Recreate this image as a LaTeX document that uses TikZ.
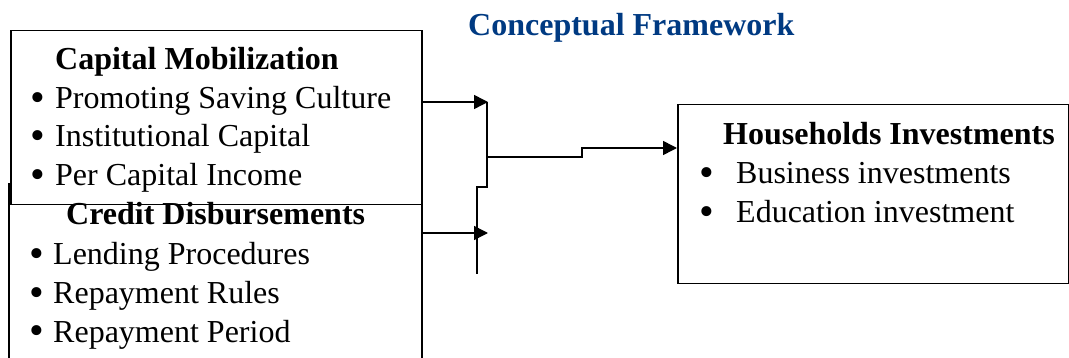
\documentclass[tikz,border=0pt]{standalone}
\usepackage{fontspec}
\setmainfont{Liberation Serif}
\usetikzlibrary{arrows.meta}
\definecolor{titleblue}{RGB}{0,58,130}
\begin{document}
\begin{tikzpicture}[x=1pt,y=-1pt,
  box/.style={draw=black, line width=1.5pt, fill=white, anchor=north west, inner sep=0pt},
  txt/.style={anchor=base west, inner sep=0pt, font=\fontsize{32}{37}\selectfont},
  head/.style={anchor=base west, inner sep=0pt, font=\fontsize{32}{37}\selectfont\bfseries},
  bul/.style={anchor=center, inner sep=0pt, font=\fontsize{42}{42}\selectfont},
  conn/.style={line width=1.5pt},
  arr/.style={conn, -{Triangle[length=14pt,width=14pt]}}]
\useasboundingbox (0,0) rectangle (1069,358);
% boxes
\node[box, minimum width=413pt, minimum height=240pt] (cd) at (8,183) {};
\node[box, minimum width=411pt, minimum height=174pt] (cm) at (10,30) {};
\node[box, minimum width=391pt, minimum height=179pt] (hi) at (677,104) {};
% title
\node[head, text=titleblue] (title) at (468,36) {Conceptual Framework};
% capital mobilization
\node[head] (cmh) at (55,70) {Capital Mobilization};
\node[bul] (cmb1) at (38,102) {\textbullet};
\node[txt] (cm1) at (55,108.5) {Promoting Saving Culture};
\node[bul] (cmb2) at (38,140.5) {\textbullet};
\node[txt] (cm2) at (55,147) {Institutional Capital};
\node[bul] (cmb3) at (38,179) {\textbullet};
\node[txt] (cm3) at (55,185.5) {Per Capital Income};
% credit disbursements
\node[head] (cdh) at (66,225) {Credit Disbursements};
\node[bul] (cdb1) at (37,258.5) {\textbullet};
\node[txt] (cd1) at (53,265) {Lending Procedures};
\node[bul] (cdb2) at (37,297) {\textbullet};
\node[txt] (cd2) at (53,303.5) {Repayment Rules};
\node[bul] (cdb3) at (37,335.5) {\textbullet};
\node[txt] (cd3) at (53,342) {Repayment Period};
% households investments
\node[head] (hih) at (723,145) {Households Investments};
\node[bul] (hib1) at (707,177.5) {\textbullet};
\node[txt] (hi1) at (736,184) {Business investments};
\node[bul] (hib2) at (707,216.5) {\textbullet};
\node[txt] (hi2) at (736,223) {Education investment};
% connectors
\coordinate (j1) at (488,102);
\coordinate (j2) at (488,233);
\coordinate (v1) at (487,102);
\coordinate (v2) at (487,187);
\coordinate (v3) at (477,187);
\coordinate (v4) at (477,274);
\coordinate (m1) at (487,157);
\coordinate (s1) at (582,157);
\coordinate (s2) at (582,148);
\draw[arr] (cm.east |- j1) -- (j1);
\draw[arr] (cd.east |- j2) -- (j2);
\draw[conn] (v1) -- (v2) -- (v3) -- (v4);
\draw[arr] (m1) -- (s1) -- (s2) -- (hi.west |- s2);
\end{tikzpicture}
\end{document}
